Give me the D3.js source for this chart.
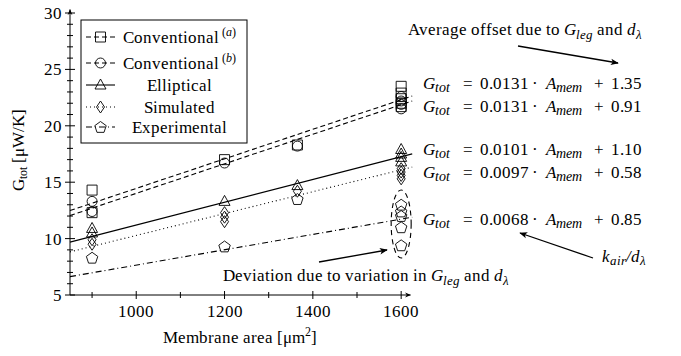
<!DOCTYPE html>
<html>
<head>
<meta charset="utf-8">
<script src="https://cdn.jsdelivr.net/npm/d3@7"></script>
<style>
  @font-face { font-family: "ChartSerif"; font-style: normal; font-weight: 400;
               src: local("Liberation Serif"), local("LiberationSerif"), local("DejaVu Serif"); }
  @font-face { font-family: "ChartSerif"; font-style: italic; font-weight: 400;
               src: local("Liberation Serif Italic"), local("LiberationSerif-Italic"), local("DejaVu Serif Italic"); }
</style>
</head>
<body style="margin:0">
<svg id="chart" width="681" height="356"></svg>
<script>
// measured points, [membrane area (µm²), G_tot (µW/K)]
const convA = [[900, 14.3], [900, 12.3], [1200, 17.0], [1365, 18.3],
               [1600, 23.5], [1600, 22.9], [1600, 22.4], [1600, 22.0], [1600, 21.7]];
const convB = [[900, 13.3], [900, 12.4], [1200, 16.7], [1365, 18.2],
               [1600, 22.6], [1600, 22.2], [1600, 21.9], [1600, 21.5]];
const elliptical = [[900, 10.9], [900, 10.5], [1200, 13.3], [1365, 14.7],
                    [1600, 17.9], [1600, 17.5], [1600, 17.2], [1600, 16.8]];
const simulated = [[900, 9.9], [900, 9.5], [1200, 12.3], [1200, 11.9], [1200, 11.5], [1365, 14.2],
                   [1600, 16.2], [1600, 15.9], [1600, 15.6], [1600, 15.3]];
const experimental = [[900, 8.3], [1200, 9.3], [1365, 13.5],
                      [1600, 13.0], [1600, 12.4], [1600, 12.0], [1600, 11.0], [1600, 9.4]];

// fitted lines G_tot = slope * A_mem + offset
const fitSlopes = [0.0131, 0.0131, 0.0101, 0.0097, 0.0068];
const fitOffsets = [1.35, 0.91, 1.10, 0.58, 0.85];
const fitRange = [850, 1625];

// legend labels and tick values
const seriesNames = ["Conventional", "Conventional", "Elliptical", "Simulated", "Experimental"];
const seriesSup = ["a", "b", "", "", ""];
const xMajorTicks = [1000, 1200, 1400, 1600];
const xMinorTicks = [900, 1100, 1300, 1500];
const yMajorTicks = [5, 10, 15, 20, 25, 30];
const yMinorTicks = d3.range(6, 30).filter(v => v % 5 !== 0);

const series = [convA, convB, elliptical, simulated, experimental];
const markers = ["square", "circle", "triangle", "diamond", "pentagon"];
const dashes = ["5,3", "5,3", null, "1,3", "6,3,1,3"];

const FONT = "ChartSerif, 'Liberation Serif', 'DejaVu Serif'";
const x = d3.scaleLinear().domain([850, 1620]).range([70, 410]);
const y = d3.scaleLinear().domain([5, 30]).range([295, 13]);

// marker shapes, all unfilled
let symbolPath = (type) => {
    switch (type) {
        case "square": return "M-5,-5 H5 V5 H-5 Z";
        case "circle": return d3.symbol(d3.symbolCircle, 78)();
        case "triangle": return "M0,-6 L5.5,4 L-5.5,4 Z";
        case "diamond": return "M0,-6 L4,0 L0,6 L-4,0 Z";
        case "pentagon": {
            let pts = d3.range(5).map(i => {
                let a = -Math.PI / 2 + i * 2 * Math.PI / 5;
                return [6 * Math.cos(a), 6 * Math.sin(a) + 0.5];
            });
            return "M" + pts.map(p => p.join(",")).join("L") + "Z";
        }
    }
};

function draw() {
    const svg = d3.select("#chart");
    svg.selectAll("*").remove();

    // every text gets the serif face, set inline
    let addText = (parent, content) => {
        let t = parent.append("text")
            .attr("font-family", FONT)
            .style("font-family", FONT)
            .style("font-size", "17px")
            .attr("fill", "#000");
        if (content !== undefined) t.text(content);
        return t;
    };

    // arrow heads used by axes and annotations
    const defs = svg.append("defs");
    defs.append("marker")
        .attr("id", "arrow")
        .attr("viewBox", "0 0 10 10")
        .attr("refX", 9).attr("refY", 5)
        .attr("markerWidth", 8).attr("markerHeight", 8)
        .attr("markerUnits", "userSpaceOnUse")
        .attr("orient", "auto")
        .append("path")
        .attr("d", "M0,1 L10,5 L0,9 L2.5,5 Z")
        .attr("fill", "#000");
    defs.append("marker")
        .attr("id", "axarrow")
        .attr("viewBox", "0 0 10 10")
        .attr("refX", 9).attr("refY", 5)
        .attr("markerWidth", 6).attr("markerHeight", 6)
        .attr("markerUnits", "userSpaceOnUse")
        .attr("orient", "auto")
        .append("path")
        .attr("d", "M0,1 L10,5 L0,9 L3,5 Z")
        .attr("fill", "#000");

    // fit lines
    const plot = svg.append("g");
    fitSlopes.forEach((s, i) => {
        plot.append("path")
            .datum(fitRange.map(a => [a, s * a + fitOffsets[i]]))
            .attr("d", d3.line().x(d => x(d[0])).y(d => y(d[1])))
            .attr("fill", "none")
            .attr("stroke", "#000")
            .attr("stroke-width", 1.1)
            .attr("stroke-dasharray", dashes[i]);
    });

    // data points
    series.forEach((pts, i) => {
        plot.append("g").selectAll("path")
            .data(pts)
            .enter()
            .append("path")
            .attr("d", symbolPath(markers[i]))
            .attr("transform", d => "translate(" + x(d[0]) + "," + y(d[1]) + ")")
            .attr("fill", "none")
            .attr("stroke", "#000")
            .attr("stroke-width", 0.9);
    });

    // dashed ellipse round the experimental spread at 1600
    plot.append("ellipse")
        .attr("cx", x(1600)).attr("cy", y(11.3))
        .attr("rx", 10).attr("ry", 34)
        .attr("fill", "none")
        .attr("stroke", "#000")
        .attr("stroke-width", 1.1)
        .attr("stroke-dasharray", "5,4");

    // x axis
    const xAxis = svg.append("g").attr("transform", "translate(0," + y(5) + ")");
    xAxis.append("line")
        .attr("x1", x(850)).attr("x2", x(1621))
        .attr("stroke", "#000").attr("stroke-width", 1)
        .attr("marker-end", "url(#axarrow)");
    xAxis.selectAll(".major").data(xMajorTicks).enter().append("line")
        .attr("x1", d => x(d)).attr("x2", d => x(d))
        .attr("y1", -4).attr("y2", 4)
        .attr("stroke", "#000");
    xAxis.selectAll(".minor").data(xMinorTicks).enter().append("line")
        .attr("x1", d => x(d)).attr("x2", d => x(d))
        .attr("y1", -3).attr("y2", 3)
        .attr("stroke", "#000");
    xMajorTicks.forEach(d => {
        addText(xAxis, d).attr("x", x(d)).attr("y", 22)
            .attr("text-anchor", "middle");
    });

    // y axis
    const yAxis = svg.append("g").attr("transform", "translate(" + x(850) + ",0)");
    yAxis.append("line")
        .attr("y1", y(5)).attr("y2", y(30.3))
        .attr("stroke", "#000").attr("stroke-width", 1)
        .attr("marker-end", "url(#axarrow)");
    yAxis.selectAll(".major").data(yMajorTicks).enter().append("line")
        .attr("y1", d => y(d)).attr("y2", d => y(d))
        .attr("x1", -5).attr("x2", 5)
        .attr("stroke", "#000");
    yAxis.selectAll(".minor").data(yMinorTicks).enter().append("line")
        .attr("y1", d => y(d)).attr("y2", d => y(d))
        .attr("x1", -3).attr("x2", 3)
        .attr("stroke", "#000");
    yMajorTicks.forEach(d => {
        addText(yAxis, d).attr("x", -8).attr("y", y(d) + 6)
            .attr("text-anchor", "end");
    });

    // axis titles
    const yTitle = addText(svg)
        .attr("transform", "translate(24,150) rotate(-90)")
        .attr("text-anchor", "middle");
    yTitle.append("tspan").text("G");
    yTitle.append("tspan").attr("dy", 3).style("font-size", "12px").text("tot");
    yTitle.append("tspan").attr("dy", -3).text(" [\u03bcW/K]");

    const xTitle = addText(svg)
        .attr("x", 240).attr("y", 343)
        .attr("text-anchor", "middle");
    xTitle.append("tspan").text("Membrane area [\u03bcm");
    xTitle.append("tspan").attr("dy", -7).style("font-size", "12px").text("2");
    xTitle.append("tspan").attr("dy", 7).text("]");

    // legend
    const legend = svg.append("g");
    legend.append("rect")
        .attr("x", 81).attr("y", 20)
        .attr("width", 166).attr("height", 123)
        .attr("fill", "#fff")
        .attr("stroke", "#000")
        .attr("stroke-width", 1);
    const legendY = [37, 63, 85, 107, 127];
    seriesNames.forEach((name, i) => {
        let g = legend.append("g").attr("transform", "translate(0," + legendY[i] + ")");
        g.append("line")
            .attr("x1", 86).attr("x2", 115)
            .attr("stroke", "#000").attr("stroke-width", 1.1)
            .attr("stroke-dasharray", dashes[i]);
        g.append("path")
            .attr("d", symbolPath(markers[i]))
            .attr("transform", "translate(100.5,0)")
            .attr("fill", "none").attr("stroke", "#000").attr("stroke-width", 0.9);
        let t = addText(g)
            .attr("x", 179).attr("y", 6)
            .attr("text-anchor", "middle");
        t.append("tspan").text(name);
        if (seriesSup[i]) {
            t.append("tspan").attr("dx", 3).attr("dy", -7).style("font-size", "12px").text("(");
            t.append("tspan").style("font-size", "12px").style("font-style", "italic").text(seriesSup[i]);
            t.append("tspan").style("font-size", "12px").text(")");
        }
    });

    // equation labels, built from the fit arrays
    const eqY = [89, 112, 155, 178, 225];
    fitSlopes.forEach((s, i) => {
        let t = addText(svg).attr("x", 423).attr("y", eqY[i]);
        t.append("tspan").style("font-style", "italic").text("G");
        t.append("tspan").attr("dy", 3).style("font-size", "14px").style("font-style", "italic").text("tot");
        t.append("tspan").attr("dy", -3).attr("dx", 13).text("=");
        t.append("tspan").attr("dx", 7).text(s.toFixed(4));
        t.append("tspan").attr("dx", 3).text("\u00b7");
        t.append("tspan").attr("dx", 8).style("font-style", "italic").text("A");
        t.append("tspan").attr("dy", 3).style("font-size", "14px").style("font-style", "italic").text("mem");
        t.append("tspan").attr("dy", -3).attr("dx", 12).text("+");
        t.append("tspan").attr("dx", 7).text(fitOffsets[i].toFixed(2));
    });

    // helper for "G_leg and d_λ" annotations
    let gLegText = (t) => {
        t.append("tspan").style("font-style", "italic").text("G");
        t.append("tspan").attr("dy", 4).style("font-size", "13px").style("font-style", "italic").text("leg");
        t.append("tspan").attr("dy", -4).text(" and ");
        t.append("tspan").style("font-style", "italic").text("d");
        t.append("tspan").attr("dy", 4).style("font-size", "13px").style("font-style", "italic").text("\u03bb");
    };

    // annotations
    let offsetNote = addText(svg).attr("x", 408).attr("y", 35);
    offsetNote.append("tspan").text("Average offset due to ");
    gLegText(offsetNote);
    svg.append("line")
        .attr("x1", 518).attr("y1", 46).attr("x2", 618).attr("y2", 63)
        .attr("stroke", "#000").attr("stroke-width", 1.3)
        .attr("marker-end", "url(#arrow)");

    let devNote = addText(svg).attr("x", 223).attr("y", 281);
    devNote.append("tspan").text("Deviation due to variation in ");
    gLegText(devNote);
    svg.append("line")
        .attr("x1", 319).attr("y1", 262).attr("x2", 387).attr("y2", 250)
        .attr("stroke", "#000").attr("stroke-width", 1.3)
        .attr("marker-end", "url(#arrow)");

    let kairNote = addText(svg).attr("x", 602).attr("y", 262);
    kairNote.append("tspan").style("font-style", "italic").text("k");
    kairNote.append("tspan").attr("dy", 3).style("font-size", "13px").style("font-style", "italic").text("air");
    kairNote.append("tspan").attr("dy", -3).style("font-style", "italic").text("/d");
    kairNote.append("tspan").attr("dy", 3).style("font-size", "13px").style("font-style", "italic").text("\u03bb");
    svg.append("line")
        .attr("x1", 593).attr("y1", 258).attr("x2", 520).attr("y2", 233)
        .attr("stroke", "#000").attr("stroke-width", 1.3)
        .attr("marker-end", "url(#arrow)");
}

// draw now, and again once the aliased serif face has loaded
draw();
if (document.fonts && document.fonts.load) {
    Promise.all([
        document.fonts.load("17px ChartSerif"),
        document.fonts.load("italic 17px ChartSerif")
    ]).then(draw, draw);
}
</script>
</body>
</html>
